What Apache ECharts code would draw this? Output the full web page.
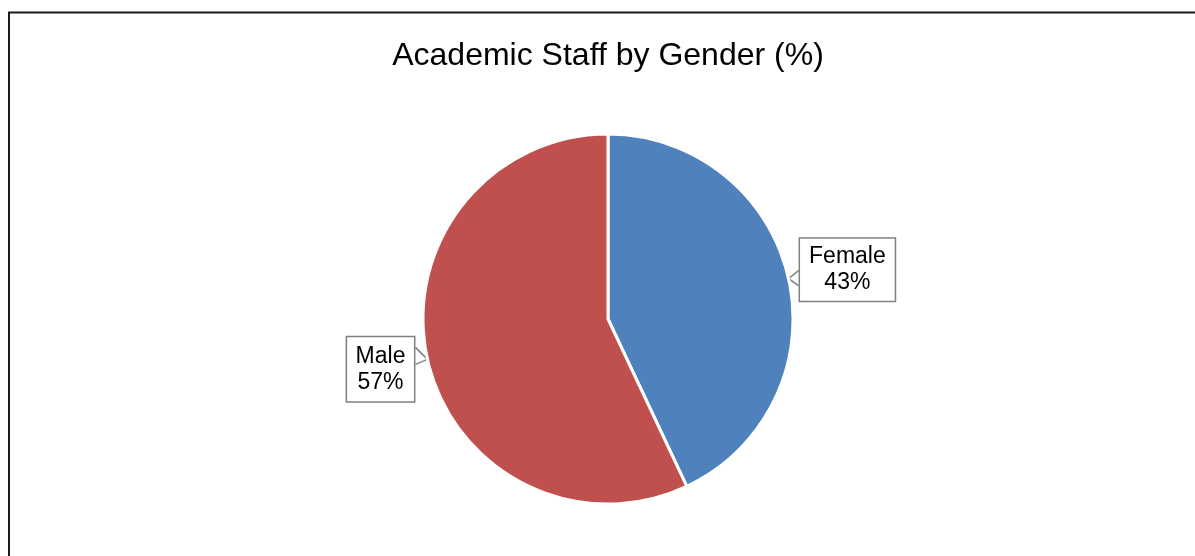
<!DOCTYPE html>
<html>
<head>
<meta charset="utf-8">
<script src="https://cdn.jsdelivr.net/npm/echarts@6/dist/echarts.min.js"></script>
<style>
  html, body { margin: 0; padding: 0; background: #ffffff; }
  #chart { width: 1195px; height: 556px; }
</style>
</head>
<body>
<div id="chart"></div>
<script>
// Share of academic staff by gender
const categories = ['Female', 'Male'];
const values = [43, 57];
const sliceColors = ['#4F81BD', '#C0504D'];

const FONT = '"Liberation Sans", Arial, "DejaVu Sans", sans-serif';

const chart = echarts.init(document.getElementById('chart'), null, { renderer: 'canvas' });

// Pie geometry
const PIE_CENTER = [608, 319];
const PIE_RADIUS = 185;

// Callout placement relative to the slice's edge point (pointer tip)
const callout = {
  right: { gap: 10, dy: -9, notch: [-8, 7] },
  left:  { gap: 12, dy: 10, notch: [-12, 5] }
};

const option = {
  backgroundColor: '#ffffff',
  animation: false,
  title: {
    text: 'Academic Staff by Gender (%)',
    left: PIE_CENTER[0] - 5,
    textAlign: 'center',
    top: 35,
    textStyle: { fontFamily: FONT, fontSize: 32, fontWeight: 'normal', color: '#000000' }
  },
  graphic: [
    {
      type: 'polyline',
      silent: true,
      shape: { points: [[9, 700], [9, 12.5], [1300, 12.5]] },
      style: { stroke: '#1a1a1a', lineWidth: 2, fill: null }
    }
  ],
  series: [{
    type: 'pie',
    center: PIE_CENTER,
    radius: PIE_RADIUS,
    startAngle: 90,
    clockwise: true,
    avoidLabelOverlap: false,
    data: categories.map((name, i) => ({
      name: name,
      value: values[i],
      itemStyle: { color: sliceColors[i] },
      label: i === 0
        ? { padding: [6, 9, 4, 9] }
        : { padding: [9, 8.5, 3, 8.5] }
    })),
    itemStyle: { borderColor: '#ffffff', borderWidth: 3 },
    label: {
      show: true,
      position: 'outside',
      formatter: '{b}\n{c}%',
      fontFamily: FONT,
      fontSize: 23,
      lineHeight: 26,
      color: '#000000',
      align: 'center',
      backgroundColor: '#ffffff',
      borderColor: '#808080',
      borderWidth: 1.5
    },
    labelLine: {
      show: true,
      length: 10,
      length2: 0,
      lineStyle: { color: '#808080', width: 1.5 }
    },
    labelLayout: function (params) {
      const tip = params.labelLinePoints[0];
      const onRight = tip[0] > PIE_CENTER[0];
      const c = onRight ? callout.right : callout.left;
      const edgeX = onRight ? tip[0] + c.gap : tip[0] - c.gap;
      return {
        x: edgeX + (onRight ? params.labelRect.width / 2 : -params.labelRect.width / 2),
        y: tip[1] + c.dy,
        align: 'center',
        verticalAlign: 'middle',
        labelLinePoints: [
          [edgeX, tip[1] + c.notch[0]],
          [tip[0], tip[1]],
          [edgeX, tip[1] + c.notch[1]]
        ]
      };
    }
  }]
};

chart.setOption(option);
</script>
</body>
</html>
